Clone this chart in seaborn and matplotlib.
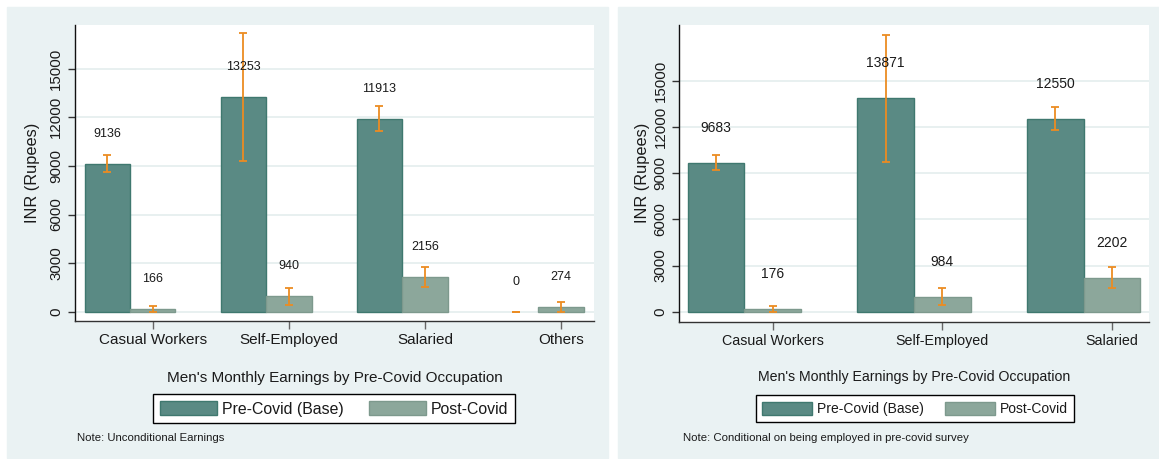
import numpy as np
import pandas as pd
import matplotlib.pyplot as plt
from matplotlib.patches import Patch, Rectangle
import seaborn as sns

# Values
periods = ['Pre-Covid (Base)', 'Post-Covid']

occ_left = ['Casual Workers', 'Self-Employed', 'Salaried', 'Others']
pre_left = [9136, 13253, 11913, 0]
post_left = [166, 940, 2156, 274]
pre_left_lo = [8602, 9313, 11143, 0]
pre_left_hi = [9670, 17193, 12683, 0]
post_left_lo = [-4, 405, 1551, -46]
post_left_hi = [336, 1475, 2761, 594]

occ_right = ['Casual Workers', 'Self-Employed', 'Salaried']
pre_right = [9683, 13871, 12550]
post_right = [176, 984, 2202]
pre_right_lo = [9208, 9723, 11815]
pre_right_hi = [10158, 18019, 13285]
post_right_lo = [-9, 424, 1529]
post_right_hi = [361, 1544, 2875]

yticks = [0, 3000, 6000, 9000, 12000, 15000]
xtitle = "Men's Monthly Earnings by Pre-Covid Occupation"
note_left = 'Note: Unconditional Earnings'
note_right = 'Note: Conditional on being employed in pre-covid survey'

# Colours
PRE = '#5A8A84'
PRE_EDGE = '#3F786F'
POST = '#8CA79B'
POST_EDGE = '#7D998D'
ORANGE = '#EC8C22'
PANEL_BG = '#EAF2F3'
GRID = '#E4EDEE'

W, H = 1159, 459

sns.set_theme(style='white')
plt.rcParams['font.family'] = ['Liberation Sans', 'DejaVu Sans']
plt.rcParams['text.color'] = '#1a1a1a'


def fx(x):
    return x / W


def fy(y):
    return 1 - y / H


def draw_panel(ax, occ, pre, post, pre_lo, pre_hi, post_lo, post_hi,
               ylim, xlim, value_fs, offset_px, tick_fs):
    n = len(occ)
    df = pd.DataFrame({
        'occupation': occ * 2,
        'period': [periods[0]] * n + [periods[1]] * n,
        'earnings': pre + post,
    })
    sns.barplot(data=df, x='occupation', y='earnings', hue='period',
                order=occ, hue_order=periods, palette=[PRE, POST],
                width=0.668, errorbar=None, legend=False, saturation=1,
                ax=ax, zorder=3)

    edges = [PRE_EDGE, POST_EDGE]
    for cont, edge, vals, lo, hi in zip(ax.containers, edges, [pre, post],
                                        [pre_lo, post_lo], [pre_hi, post_hi]):
        xs = [b.get_x() + b.get_width() / 2 for b in cont]
        for b in cont:
            b.set_edgecolor(edge)
            # an empty bar leaves no outline
            b.set_linewidth(1.0 if b.get_height() != 0 else 0)
        v = np.array(vals)
        ax.errorbar(xs, v, yerr=[v - np.array(lo), np.array(hi) - v],
                    fmt='none', ecolor=ORANGE, elinewidth=1.3,
                    capsize=2.8, capthick=1.3, zorder=5)
        for x, val in zip(xs, vals):
            ax.annotate(f'{val}', (x, val), xytext=(0, offset_px),
                        textcoords='offset pixels', ha='center', va='center',
                        fontsize=value_fs, color='#1a1a1a', zorder=6)

    # labels sit under the post-covid bars, as in the original
    post_x = [b.get_x() + b.get_width() / 2 for b in ax.containers[1]]
    ax.set_xticks(post_x, occ)
    ax.set_xlim(*xlim)
    ax.set_ylim(*ylim)
    ax.set_yticks(yticks)
    ax.set_xlabel('')
    ax.set_ylabel('INR (Rupees)', fontsize=11.8, color='#1a1a1a')
    ax.yaxis.grid(True, color=GRID, lw=1.2)
    ax.set_axisbelow(True)
    ax.set_facecolor('white')
    for side in ['top', 'right']:
        ax.spines[side].set_visible(False)
    ax.spines['left'].set_color('#111111')
    ax.spines['bottom'].set_color('#333333')
    ax.spines['left'].set_linewidth(1.0)
    ax.spines['bottom'].set_linewidth(1.0)
    ax.tick_params(axis='x', bottom=True, length=5.8, width=1, color='#666666',
                   pad=3, labelsize=tick_fs, labelcolor='#1a1a1a')
    ax.tick_params(axis='y', left=True, length=5, width=1, color='#333333',
                   pad=3.5, labelsize=10.8, labelcolor='#1a1a1a',
                   labelrotation=90)
    for lab in ax.get_yticklabels():
        lab.set_va('center')


fig = plt.figure(figsize=(W / 100, H / 100), dpi=100)
fig.patch.set_facecolor('white')

# grey panel backgrounds, kept behind the axes
fig.patches.append(Rectangle((fx(7), fy(458)), fx(608 - 7), (458 - 7) / H,
                             transform=fig.transFigure, color=PANEL_BG,
                             zorder=-10))
fig.patches.append(Rectangle((fx(618), fy(458)), fx(W - 618), (458 - 7) / H,
                             transform=fig.transFigure, color=PANEL_BG,
                             zorder=-10))

ax1 = fig.add_axes([fx(75), fy(321), fx(594 - 75), (321 - 25) / H])
ax2 = fig.add_axes([fx(679.3), fy(321.7), fx(1149 - 679.3), (321.7 - 25) / H])

draw_panel(ax1, occ_left, pre_left, post_left, pre_left_lo, pre_left_hi,
           post_left_lo, post_left_hi, ylim=(-575, 17700),
           xlim=(-0.404, 3.409), value_fs=9, offset_px=30, tick_fs=11)
draw_panel(ax2, occ_right, pre_right, post_right, pre_right_lo, pre_right_hi,
           post_right_lo, post_right_hi, ylim=(-650, 18640),
           xlim=(-0.383, 2.385), value_fs=10, offset_px=35, tick_fs=10.3)

ax1.yaxis.set_label_coords((40 - 75) / (594 - 75), 0.5)
ax2.yaxis.set_label_coords((650 - 679.3) / (1149 - 679.3), 0.5)

# x titles
fig.text(fx(334.5), fy(377.7), xtitle, ha='center', va='center', fontsize=11)
fig.text(fx(914), fy(377.3), xtitle, ha='center', va='center', fontsize=10.2)

# legends
handles = [Patch(facecolor=PRE, edgecolor=PRE_EDGE, lw=1),
           Patch(facecolor=POST, edgecolor=POST_EDGE, lw=1)]
leg_kw = dict(loc='center', ncol=2, frameon=True, fancybox=False,
              edgecolor='black', framealpha=1, borderaxespad=0)
l1 = fig.legend(handles, periods, bbox_to_anchor=(fx(334.3), fy(408.8)),
                fontsize=11.4, handlelength=3.6, handleheight=1.0,
                borderpad=0.42, handletextpad=0.3, columnspacing=1.65,
                **leg_kw)
l2 = fig.legend(handles, periods, bbox_to_anchor=(fx(914.8), fy(408.8)),
                fontsize=10, handlelength=3.6, handleheight=1.1,
                borderpad=0.45, handletextpad=0.35, columnspacing=1.5,
                **leg_kw)
for leg in (l1, l2):
    leg.get_frame().set_linewidth(1.0)

# notes
fig.text(fx(77.3), fy(437.7), note_left, ha='left', va='center', fontsize=8.2)
fig.text(fx(682.6), fy(438.3), note_right, ha='left', va='center', fontsize=8.2)

fig.savefig('out.png', dpi=100)
